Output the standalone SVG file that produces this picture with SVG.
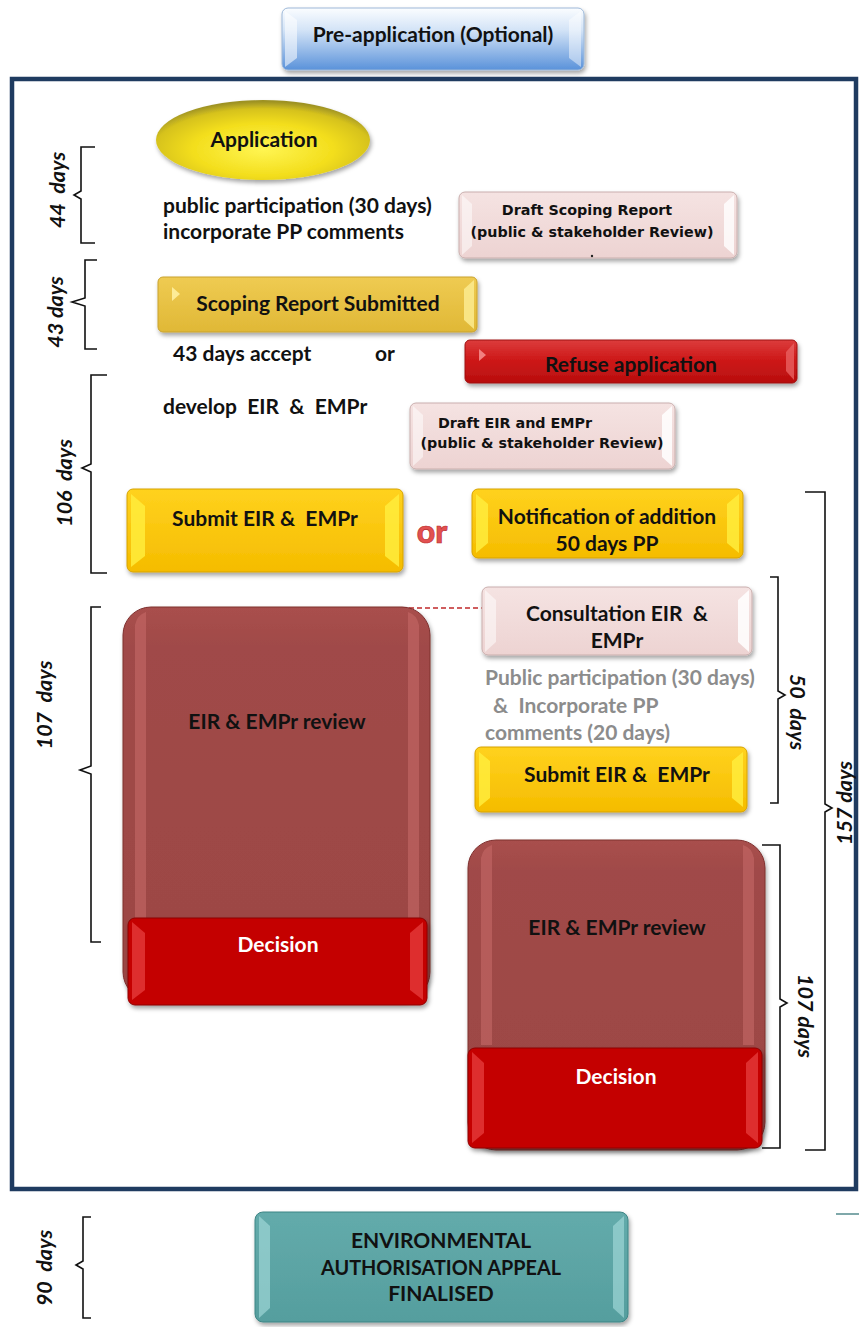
<svg xmlns="http://www.w3.org/2000/svg" width="859" height="1327" viewBox="0 0 859 1327">
<defs>
<filter id="sh" x="-10%" y="-10%" width="120%" height="130%"><feDropShadow dx="1.5" dy="3" stdDeviation="2" flood-color="#000" flood-opacity="0.35"/></filter>
<linearGradient id="gBlue" x1="0" y1="0" x2="0" y2="1"><stop offset="0" stop-color="#FBFDFF"/><stop offset="0.35" stop-color="#D4E4F7"/><stop offset="1" stop-color="#5A92DA"/></linearGradient>
<linearGradient id="gGold" x1="0" y1="0" x2="0" y2="1"><stop offset="0" stop-color="#FFD21E"/><stop offset="1" stop-color="#F5BC00"/></linearGradient>
<linearGradient id="gMuted" x1="0" y1="0" x2="0" y2="1"><stop offset="0" stop-color="#EFCB52"/><stop offset="1" stop-color="#E0B836"/></linearGradient>
<linearGradient id="gRed" x1="0" y1="0" x2="0" y2="1"><stop offset="0" stop-color="#DC3C3C"/><stop offset="0.5" stop-color="#CC1616"/><stop offset="1" stop-color="#B80F0F"/></linearGradient>
<linearGradient id="gPink" x1="0" y1="0" x2="0" y2="1"><stop offset="0" stop-color="#F5E3E2"/><stop offset="1" stop-color="#EDD3D2"/></linearGradient>
<linearGradient id="gTeal" x1="0" y1="0" x2="0" y2="1"><stop offset="0" stop-color="#63ABAB"/><stop offset="1" stop-color="#559E9E"/></linearGradient>
<linearGradient id="gRev" x1="0" y1="0" x2="0" y2="1"><stop offset="0" stop-color="#A94F4D"/><stop offset="0.1" stop-color="#A04A48"/><stop offset="1" stop-color="#9C4644"/></linearGradient>
<radialGradient id="gEll" cx="0.5" cy="0.62" r="0.6"><stop offset="0" stop-color="#FFF552"/><stop offset="0.55" stop-color="#F3DE1C"/><stop offset="0.85" stop-color="#D6C21E"/><stop offset="1" stop-color="#9E9224"/></radialGradient>
<style>
.t{font-family:Lato,"Open Sans","Liberation Sans",sans-serif;font-weight:bold;fill:#111;font-size:21px;}
.c{text-anchor:middle;}
.cg{font-family:"DejaVu Sans","Noto Sans",sans-serif;font-weight:bold;fill:#111;font-size:14.3px;}
.d{font-family:Lato,"Open Sans","Liberation Sans",sans-serif;font-weight:bold;font-style:italic;font-size:21.5px;fill:#111;text-anchor:middle;}
.gr{font-family:Lato,"Open Sans","Liberation Sans",sans-serif;font-weight:bold;font-size:21px;fill:#8C8C8C;}
.br{fill:none;stroke:#111;stroke-width:1.6;}
.wt{fill:#fff;}
</style>
</defs>

<!-- frame -->
<rect x="12" y="79" width="844" height="1110" fill="none" stroke="#1F3B60" stroke-width="4.5"/>
<line x1="836" y1="1214" x2="859" y2="1214" stroke="#7FA8AA" stroke-width="2"/>

<g id="connectors">
<line x1="385" y1="608" x2="482" y2="608" stroke="#C0282A" stroke-width="1.5" stroke-dasharray="5,3"/>
<line x1="150" y1="609" x2="385" y2="609" stroke="#8A2E2C" stroke-width="1" stroke-dasharray="5,3" opacity="0.6"/>
</g>

<g id="preapp">
<rect x="282" y="8" width="302" height="62" rx="6" fill="url(#gBlue)" stroke="#9DB8D8" stroke-width="1" filter="url(#sh)"/>
<path d="M285,11 L297,20 L297,58 L285,67Z" fill="#fff" opacity="0.55"/>
<path d="M581,11 L569,20 L569,58 L581,67Z" fill="#fff" opacity="0.45"/>
<text class="t c" x="433" y="42">Pre-application (Optional)</text>
</g>

<g id="application">
<ellipse cx="263" cy="140" rx="107" ry="40" fill="url(#gEll)" filter="url(#sh)"/>
<text class="t c" x="264" y="147" font-size="20.5">Application</text>
</g>

<g id="pp-text">
<text class="t" x="163" y="213" font-size="21.8">public participation (30 days)</text>
<text class="t" x="163" y="239" font-size="21.5">incorporate PP comments</text>
</g>

<g id="draft-scoping">
<rect x="459" y="192" width="278" height="66" rx="6" fill="url(#gPink)" stroke="#C9AEAD" stroke-width="1" filter="url(#sh)"/>
<path d="M462,195 L472,204 L472,246 L462,255Z" fill="#fff" opacity="0.5"/>
<path d="M734,195 L724,204 L724,246 L734,255Z" fill="#fff" opacity="0.8"/>
<text class="cg c" x="587" y="215">Draft Scoping Report</text>
<text class="cg c" x="592" y="237">(public &amp; stakeholder Review)</text>
<circle cx="592" cy="256" r="1.2" fill="#222"/>
</g>

<g id="scoping-submitted">
<rect x="158" y="277" width="319" height="55" rx="5" fill="url(#gMuted)" stroke="#C9A22E" stroke-width="1" filter="url(#sh)"/>
<path d="M172,287 L180,294 L172,301Z" fill="#FFF0A0" opacity="0.9"/>
<path d="M474,280 L464,289 L464,320 L474,329Z" fill="#FBE98C" opacity="0.9"/>
<text class="t c" x="318" y="311">Scoping Report Submitted</text>
</g>

<g id="accept-text">
<text class="t" x="173" y="361">43 days accept</text>
<text class="t" x="375" y="361">or</text>
</g>

<g id="refuse">
<rect x="465" y="340" width="332" height="43" rx="5" fill="url(#gRed)" stroke="#9E1010" stroke-width="1" filter="url(#sh)"/>
<path d="M479,349 L486,355 L479,361Z" fill="#F28080"/>
<path d="M794,343 L786,352 L786,371 L794,380Z" fill="#E86060" opacity="0.8"/>
<text class="t c" x="631" y="372" fill="#1a0000">Refuse application</text>
</g>

<g id="develop-text">
<text class="t" x="163" y="414" xml:space="preserve">develop  EIR  &amp;  EMPr</text>
</g>

<g id="draft-eir">
<rect x="410" y="403" width="265" height="66" rx="6" fill="url(#gPink)" stroke="#C9AEAD" stroke-width="1" filter="url(#sh)"/>
<path d="M413,406 L423,415 L423,457 L413,466Z" fill="#fff" opacity="0.5"/>
<path d="M672,406 L662,415 L662,457 L672,466Z" fill="#fff" opacity="0.85"/>
<text class="cg c" x="515" y="428">Draft EIR and EMPr</text>
<text class="cg c" x="542" y="448">(public &amp; stakeholder Review)</text>
</g>

<g id="submit-left">
<rect x="127" y="489" width="276" height="83" rx="6" fill="url(#gGold)" stroke="#D6A200" stroke-width="1" filter="url(#sh)"/>
<path d="M131,494 L145,506 L145,556 L131,567Z" fill="#FFEC3C" opacity="0.85"/>
<path d="M399,494 L385,506 L385,556 L399,567Z" fill="#FFEC3C" opacity="0.85"/>
<text class="t c" x="265" y="526" xml:space="preserve">Submit EIR &amp;  EMPr</text>
</g>

<g id="or-big">
<text x="432" y="543" font-family="Lato,'Open Sans',sans-serif" font-weight="900" font-size="32" fill="#E25050" stroke="#B72C2C" stroke-width="0.6" text-anchor="middle">or</text>
</g>

<g id="notification">
<rect x="472" y="489" width="271" height="69" rx="6" fill="url(#gGold)" stroke="#D6A200" stroke-width="1" filter="url(#sh)"/>
<path d="M476,494 L488,504 L488,543 L476,553Z" fill="#FFEC3C" opacity="0.85"/>
<path d="M739,494 L727,504 L727,543 L739,553Z" fill="#FFEC3C" opacity="0.85"/>
<text class="t c" x="607" y="524">Notification of addition</text>
<text class="t c" x="607" y="551">50 days PP</text>
</g>

<g id="consultation">
<rect x="482" y="587" width="270" height="68" rx="6" fill="url(#gPink)" stroke="#C9AEAD" stroke-width="1" filter="url(#sh)"/>
<path d="M485,590 L496,600 L496,642 L485,652Z" fill="#fff" opacity="0.5"/>
<path d="M749,590 L738,600 L738,642 L749,652Z" fill="#fff" opacity="0.85"/>
<text class="t c" x="617" y="621" xml:space="preserve">Consultation EIR  &amp;</text>
<text class="t c" x="617" y="648">EMPr</text>
</g>

<g id="pp-gray">
<text class="gr" x="485" y="685">Public participation (30 days)</text>
<text class="gr" x="493" y="713" xml:space="preserve">&amp;  Incorporate PP</text>
<text class="gr" x="485" y="740">comments (20 days)</text>
</g>

<g id="submit-right">
<rect x="475" y="747" width="272" height="65" rx="6" fill="url(#gGold)" stroke="#D6A200" stroke-width="1" filter="url(#sh)"/>
<path d="M479,752 L490,761 L490,798 L479,807Z" fill="#FFEC3C" opacity="0.85"/>
<path d="M743,752 L732,761 L732,798 L743,807Z" fill="#FFEC3C" opacity="0.85"/>
<text class="t c" x="617" y="782" xml:space="preserve">Submit EIR &amp;  EMPr</text>
</g>

<g id="review-left">
<rect x="123" y="607" width="307" height="393" rx="28" fill="url(#gRev)" stroke="#7E302E" stroke-width="1" filter="url(#sh)"/>
<path d="M135,625 Q137,615 146,612 L146,990 L135,985Z" fill="#C86C6A" opacity="0.55"/>
<path d="M419,625 Q417,615 408,612 L408,990 L419,985Z" fill="#C86C6A" opacity="0.55"/>
<text class="t c" x="277" y="729">EIR &amp; EMPr review</text>
</g>
<g id="decision-left">
<rect x="128" y="918" width="299" height="87" rx="7" fill="#C40202" stroke="#8E0000" stroke-width="1" filter="url(#sh)"/>
<path d="M132,922 L145,933 L145,990 L132,1000Z" fill="#E53A3A" opacity="0.8"/>
<path d="M423,922 L410,933 L410,990 L423,1000Z" fill="#E53A3A" opacity="0.8"/>
<text class="t c wt" x="278" y="952">Decision</text>
</g>

<g id="review-right">
<rect x="468" y="840" width="297" height="310" rx="28" fill="url(#gRev)" stroke="#7E302E" stroke-width="1" filter="url(#sh)"/>
<path d="M481,858 Q483,848 492,845 L492,1045 L481,1045Z" fill="#C86C6A" opacity="0.55"/>
<path d="M754,858 Q752,848 743,845 L743,1045 L754,1045Z" fill="#C86C6A" opacity="0.55"/>
<text class="t c" x="617" y="935">EIR &amp; EMPr review</text>
</g>
<g id="decision-right">
<rect x="468" y="1048" width="294" height="100" rx="7" fill="#C40202" stroke="#8E0000" stroke-width="1" filter="url(#sh)"/>
<path d="M472,1052 L484,1063 L484,1133 L472,1143Z" fill="#E53A3A" opacity="0.8"/>
<path d="M758,1052 L746,1063 L746,1133 L758,1143Z" fill="#E53A3A" opacity="0.8"/>
<text class="t c wt" x="616" y="1084">Decision</text>
</g>

<g id="appeal">
<rect x="255" y="1212" width="373" height="110" rx="8" fill="url(#gTeal)" stroke="#3F8585" stroke-width="1" filter="url(#sh)"/>
<path d="M259,1216 L270,1226 L270,1308 L259,1318Z" fill="#9ED6D5" opacity="0.7"/>
<path d="M624,1216 L613,1226 L613,1308 L624,1318Z" fill="#9ED6D5" opacity="0.7"/>
<text class="t c" x="441" y="1248" font-size="19">ENVIRONMENTAL</text>
<text class="t c" x="441" y="1275" font-size="19" textLength="240" lengthAdjust="spacingAndGlyphs">AUTHORISATION APPEAL</text>
<text class="t c" x="441" y="1301" font-size="19">FINALISED</text>
</g>

<g id="brackets">
<path class="br" d="M95,147 H81 V191 L74,195 L81,199 V243 H95"/>
<path class="br" d="M97,260 H85 V298 L72,302 L85,306 V349 H97"/>
<path class="br" d="M107,375 H91 V464 L82,468 L91,472 V573 H107"/>
<path class="br" d="M101,607 H91 V766 L80,770 L91,774 V942 H101"/>
<path class="br" d="M91,1217 H83 V1261 L76,1265 L83,1269 V1318 H91"/>
<path class="br" d="M805,492 H825 V804 L832,808 L825,812 V1150 H805"/>
<path class="br" d="M770,577 H778 V691 L785,695 L778,699 V803 H770"/>
<path class="br" d="M762,845 H780 V999 L787,1003 L780,1007 V1148 H762"/>
</g>

<g id="day-labels">
<text class="d" transform="translate(65,190) rotate(-90)" xml:space="preserve">44  days</text>
<text class="d" transform="translate(63,312) rotate(-90)">43 days</text>
<text class="d" transform="translate(72,483) rotate(-90)" xml:space="preserve">106  days</text>
<text class="d" transform="translate(52,705) rotate(-90)" xml:space="preserve">107  days</text>
<text class="d" transform="translate(52,1268) rotate(-90)" xml:space="preserve">90  days</text>
<text class="d" transform="translate(852,803) rotate(-90)">157 days</text>
<text class="d" transform="translate(790,712) rotate(90)" xml:space="preserve">50  days</text>
<text class="d" transform="translate(798,1016) rotate(90)">107 days</text>
</g>
</svg>
